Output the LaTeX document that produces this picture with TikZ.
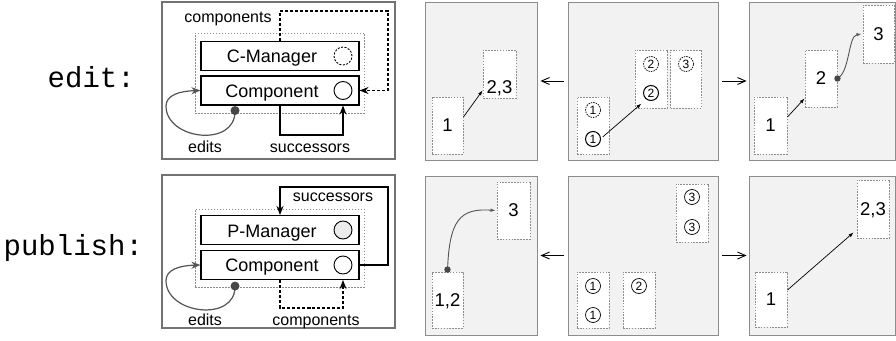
\documentclass[tikz,border=0pt]{standalone}
\usepackage{fontspec}
\setmainfont{Liberation Sans}
\newfontfamily\monofont{Liberation Mono}
\usetikzlibrary{arrows.meta}
\definecolor{pfill}{gray}{0.95}
\definecolor{pborder}{gray}{0.55}
\definecolor{lborder}{gray}{0.45}
\definecolor{dgrey}{gray}{0.55}
\definecolor{cgrey}{gray}{0.33}
\definecolor{dotgrey}{gray}{0.28}
\definecolor{pmfill}{gray}{0.92}
\begin{document}
\begin{tikzpicture}[x=1pt,y=-1pt,
  mono/.style={font=\monofont\fontsize{29}{29}\selectfont, anchor=base west, inner sep=0},
  panel/.style={draw=pborder, fill=pfill, line width=0.9pt, inner sep=0, rectangle},
  lpanel/.style={draw=lborder, fill=white, line width=1.8pt, inner sep=0, rectangle},
  dbox/.style={draw=dgrey, fill=white, dash pattern=on 1.6pt off 1.3pt, line width=0.9pt, inner sep=0, font=\fontsize{18.5}{18.5}\selectfont, text depth=0pt},
  cnum/.style={circle, draw, line width=0.7pt, minimum size=15pt, inner sep=0, font=\fontsize{12}{12}\selectfont},
  cnumb/.style={cnum, line width=1pt},
  cnumd/.style={cnum, dash pattern=on 1.5pt off 1pt},
  mbox/.style={draw, line width=1.1pt, minimum width=158, minimum height=29, inner sep=0},
  gbox/.style={draw=dgrey, dash pattern=on 1.5pt off 1.5pt, line width=0.8pt, inner sep=0},
  lcirc/.style={circle, draw, line width=0.9pt, minimum size=18pt, inner sep=0},
  lbl/.style={font=\fontsize{16}{16}\selectfont, anchor=base, inner sep=0},
  mtext/.style={font=\fontsize{18}{18}\selectfont, anchor=base, inner sep=0},
  num/.style={font=\fontsize{18.5}{18.5}\selectfont, anchor=base, inner sep=0},
  blk/.style={-{Stealth[length=9pt,width=7pt]}, line width=1.1pt},
  gcurve/.style={draw=cgrey, line width=1.2pt, -{Stealth[length=9pt,width=7pt]}},
  parr/.style={-{Latex[length=5pt,width=3.5pt]}, line width=0.7pt},
  pcurve/.style={draw=cgrey, line width=0.9pt, -{Latex[length=5pt,width=3.5pt]}},
  panarr/.style={-{Straight Barb[length=8pt,width=7pt]}, line width=0.9pt}
]
\useasboundingbox (0,0) rectangle (896,340);

% row labels
\node[mono] (ledit) at (47.5,87) {edit:};
\node[mono] (lpub) at (3.5,255) {publish:};

% ---------- left panel: edit ----------
\node[lpanel, minimum width=233, minimum height=157] (lpe) at (278.5,80.5) {};
\node[gbox, minimum width=169, minimum height=80] (ge) at (279.5,73) {};
\node[mbox] (cm) at (280,56) {};
\node[mbox] (ecomp) at (280,90.5) {};
\node[mtext] (cmt) at (272,62.5) {C-Manager};
\node[mtext] (ecompt) at (272,97) {Component};
\node[lcirc, dash pattern=on 2pt off 1.5pt] (cmc) at (343,56) {};
\node[lcirc] (ecc) at (343,90.5) {};
\coordinate (ecr) at (388,11);
\draw[blk, dash pattern=on 3pt off 2pt] (cm.north) |- (ecr) |- (ecomp.east);
\coordinate (esb) at (310,135);
\draw[blk] (ecomp.south) |- (esb) -| (ecc |- ecomp.south);
\node[lbl] (ecl) at (228,22) {components};
\node[lbl] (esl) at (310,152) {successors};
\node[lbl] (eel) at (205,152) {edits};
\coordinate (edot) at ([xshift=-45pt,yshift=-5pt]ecomp.south);
\draw[gcurve] (edot) .. controls (236,148) and (166,140) .. (166,106) .. controls (166,95) and (180,91) .. (ecomp.west);
\fill[dotgrey] (edot) circle (4.5pt);

% ---------- left panel: publish ----------
\node[lpanel, minimum width=233, minimum height=153] (lpp) at (278.5,251.5) {};
\node[gbox, minimum width=169, minimum height=78] (gp) at (279.5,248) {};
\node[mbox] (pm) at (280,230) {};
\node[mbox] (pcomp) at (280,265) {};
\node[mtext] (pmt) at (272,237) {P-Manager};
\node[mtext] (pcompt) at (272,271.5) {Component};
\node[lcirc, fill=pmfill] (pmc) at (343,230) {};
\node[lcirc] (pcc) at (343,265) {};
\coordinate (psr) at (388,187);
\draw[blk] (pcomp.east) -| (psr) -| (pm.north);
\coordinate (pcb) at (310,308);
\draw[blk, dash pattern=on 3pt off 2pt] (pcomp.south) |- (pcb) -| (pcc |- pcomp.south);
\node[lbl] (psl) at (333,201.5) {successors};
\node[lbl] (pcl) at (316,325) {components};
\node[lbl] (pel) at (205,325) {edits};
\coordinate (pdot) at ([xshift=-45pt,yshift=-6pt]pcomp.south);
\draw[gcurve] (pdot) .. controls (236,322.5) and (166,314.5) .. (166,280.5) .. controls (166,269.5) and (180,265.5) .. (pcomp.west);
\fill[dotgrey] (pdot) circle (4.5pt);

% ---------- grey panels ----------
\node[panel, minimum width=112, minimum height=158] (peA) at (481,81) {};
\node[panel, minimum width=150, minimum height=158] (peB) at (643,81) {};
\node[panel, minimum width=146, minimum height=158] (peC) at (822,81) {};
\node[panel, minimum width=112, minimum height=159] (ppA) at (481,255.5) {};
\node[panel, minimum width=150, minimum height=159] (ppB) at (643,255.5) {};
\node[panel, minimum width=146, minimum height=159] (ppC) at (822,255.5) {};

\draw[panarr, shorten <=4pt, shorten >=3pt] (peB.west) -- (peA.east);
\draw[panarr, shorten <=4pt, shorten >=2pt] (peB.east) -- (peC.west);
\draw[panarr, shorten <=4pt, shorten >=3pt] (ppB.west) -- (ppA.east);
\draw[panarr, shorten <=4pt, shorten >=2pt] (ppB.east) -- (ppC.west);

% edit A
\node[dbox, minimum width=31, minimum height=57] (e1) at (447.5,125.5) {1};
\node[dbox, minimum width=33, minimum height=48] (e23) at (499.5,74) {};
\node[num] (e23t) at (499.5,93) {2,3};
\draw[parr] ([yshift=8.5pt]e1.east) -- ([yshift=8pt]e23.south west);

% edit B
\node[dbox, minimum width=32, minimum height=57] (b1) at (593,125.5) {};
\node[dbox, minimum width=32, minimum height=58] (b2) at (651,79) {};
\node[dbox, minimum width=31, minimum height=58] (b3) at (686,79) {};
\node[cnumd] (ob1d) at (593,110) {1};
\node[cnumb] (ob1s) at (593,139) {1};
\node[cnumd] (ob2d) at (651,64) {2};
\node[cnumb] (ob2s) at (651,93) {2};
\node[cnumd] (ob3d) at (686,64) {3};
\draw[parr] ([xshift=2pt]ob1s.15) -- ([xshift=-4pt,yshift=-5pt]ob2s.225);

% edit C
\node[dbox, minimum width=33, minimum height=57] (c1) at (770.5,125.5) {1};
\node[dbox, minimum width=32, minimum height=57] (c2) at (821,78.5) {2};
\node[dbox, minimum width=31, minimum height=58] (c3) at (878.5,34) {3};
\draw[parr] ([yshift=8.5pt]c1.east) -- ([yshift=9pt]c2.south west);
\draw[pcurve] (c2.east) .. controls (850,72) and (848,36) .. ([xshift=-1pt]c3.west);
\fill[dotgrey] (c2.east) circle (3.2pt);

% publish A
\node[dbox, minimum width=31, minimum height=56] (pa12) at (447.5,300) {1,2};
\node[dbox, minimum width=33, minimum height=57] (pa3) at (513.5,210.5) {3};
\draw[pcurve] (pa12.north) .. controls (449,220) and (460,208) .. ([xshift=-1pt]pa3.west);
\fill[dotgrey] ([yshift=2pt]pa12.north) circle (3.2pt);

% publish B
\node[dbox, minimum width=32, minimum height=56] (pb1) at (593,300) {};
\node[dbox, minimum width=32, minimum height=56] (pb2) at (639,300) {};
\node[dbox, minimum width=32, minimum height=58] (pb3) at (692,213) {};
\node[cnum] (opb1a) at (593,286) {1};
\node[cnum] (opb1b) at (593,315) {1};
\node[cnum] (opb2) at (639,286) {2};
\node[cnum] (opb3a) at (692,197) {3};
\node[cnum] (opb3b) at (692,227) {3};

% publish C
\node[dbox, minimum width=32, minimum height=55] (pc1) at (771,299.5) {1};
\node[dbox, minimum width=32, minimum height=58] (pc23) at (873,209) {2,3};
\draw[parr] ([yshift=9.5pt]pc1.east) -- ([xshift=-3pt,yshift=6pt]pc23.south west);
\end{tikzpicture}
\end{document}
